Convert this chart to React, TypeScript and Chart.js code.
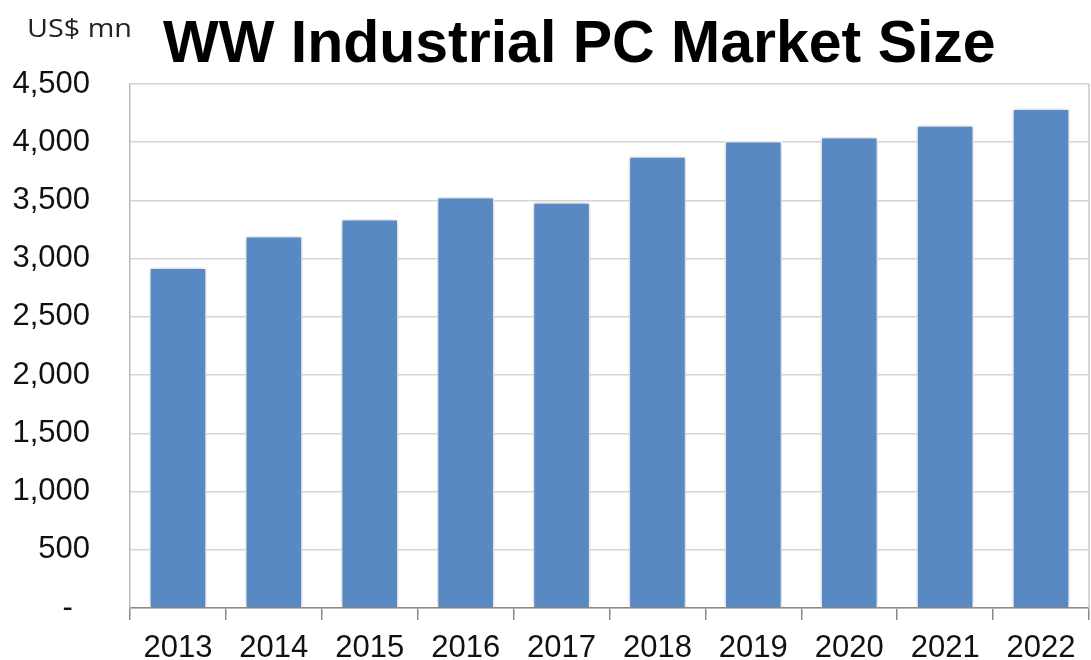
import React, { useEffect, useRef } from "react";
import { Chart, registerables } from "chart.js";

Chart.register(...registerables);

const years = ["2013", "2014", "2015", "2016", "2017", "2018", "2019", "2020", "2021", "2022"];
const marketSize = [2925, 3195, 3340, 3530, 3485, 3880, 4010, 4045, 4145, 4290];
const yTicks = [0, 500, 1000, 1500, 2000, 2500, 3000, 3500, 4000, 4500];
const titleText = "WW Industrial PC Market Size";
const unitText = "US$ mn";

export default function App() {
  const ref = useRef<HTMLCanvasElement | null>(null);

  useEffect(() => {
    document.body.style.margin = "0";
    const canvas = ref.current;
    if (!canvas) return;

    const decor = {
      id: "decor",
      beforeDatasetsDraw(chart: any) {
        const ctx = chart.ctx;
        ctx.save();
        ctx.shadowColor = "rgba(0,0,0,0.28)";
        ctx.shadowBlur = 7;
        ctx.shadowOffsetX = 0;
        ctx.shadowOffsetY = 0;
      },
      afterDatasetsDraw(chart: any) {
        chart.ctx.restore();
      },
      afterDraw(chart: any) {
        const ctx = chart.ctx;
        const a = chart.chartArea;
        ctx.save();
        ctx.strokeStyle = "#c8c8c8";
        ctx.lineWidth = 1.5;
        ctx.beginPath();
        ctx.moveTo(a.right, a.top);
        ctx.lineTo(a.right, a.bottom);
        ctx.stroke();
        ctx.fillStyle = "#000";
        ctx.textAlign = "left";
        ctx.textBaseline = "alphabetic";
        ctx.font = "bold 59px 'Liberation Sans', Arial, sans-serif";
        ctx.fillText(titleText, 163, 62);
        ctx.fillStyle = "#222";
        ctx.font = "25px 'Open Sans', 'Liberation Sans', sans-serif";
        ctx.translate(27, 37);
        ctx.scale(1.15, 1);
        ctx.fillText(unitText, 0, 0);
        ctx.restore();
      },
    };

    const chart = new Chart(canvas, {
      type: "bar",
      data: {
        labels: years,
        datasets: [
          {
            data: marketSize,
            backgroundColor: "#5889C2",
            borderColor: "#ffffff",
            borderWidth: 1.5,
            barPercentage: 0.6,
            categoryPercentage: 1,
          },
        ],
      },
      plugins: [decor],
      options: {
        responsive: false,
        animation: false,
        layout: { padding: { top: 84, right: 2, left: 0, bottom: 0 } },
        plugins: {
          legend: { display: false },
          title: { display: false },
          tooltip: { enabled: false },
        },
        scales: {
          x: {
            offset: true,
            grid: {
              offset: true,
              drawOnChartArea: false,
              drawTicks: true,
              tickLength: 12,
              color: "#8a8a8a",
              lineWidth: 1.5,
            },
            border: { display: true, color: "#8a8a8a", width: 1.5 },
            ticks: {
              color: "#111",
              font: { family: "'Liberation Sans', Arial, sans-serif", size: 31 },
              padding: 10,
              maxRotation: 0,
              autoSkip: false,
            },
            afterFit(scale: any) {
              scale.height = 52;
            },
          },
          y: {
            min: 0,
            max: 4500,
            afterBuildTicks(scale: any) {
              scale.ticks = yTicks.map((v) => ({ value: v }));
            },
            grid: {
              color: "#d4d4d4",
              lineWidth: 1.5,
              drawTicks: false,
            },
            border: { display: true, color: "#bdbdbd", width: 1.5 },
            ticks: {
              color: "#111",
              font: { family: "'Liberation Sans', Arial, sans-serif", size: 31 },
              padding: 40,
              callback: (v: any) => (Number(v) === 0 ? "-  " : Number(v).toLocaleString("en-US")),
            },
            afterFit(scale: any) {
              scale.width = 130;
              scale.paddingTop = 0;
              scale.paddingBottom = 0;
            },
          },
        },
      },
    });

    return () => chart.destroy();
  }, []);

  return (
    <div style={{ position: "fixed", left: 0, top: 0, width: 1091, height: 660, background: "#fff" }}>
      <canvas ref={ref} width={1091} height={660} />
    </div>
  );
}
